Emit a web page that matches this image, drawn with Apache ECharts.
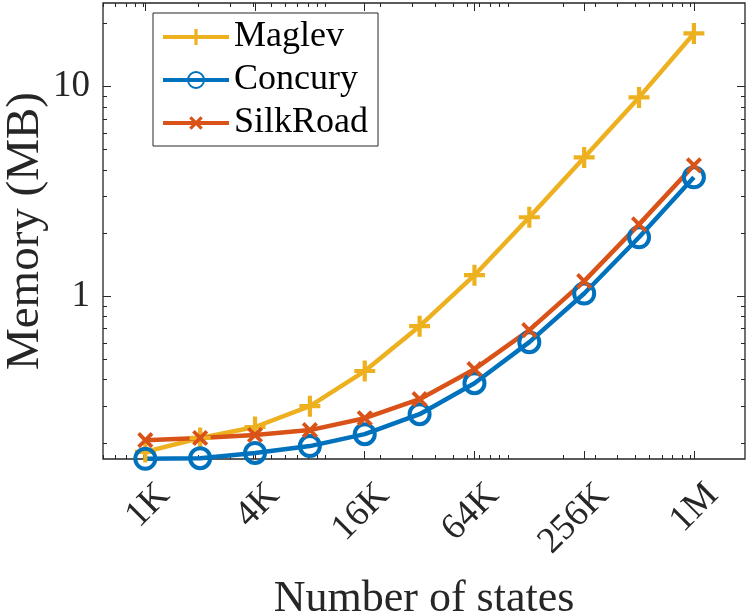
<!DOCTYPE html>
<html lang="en">
<head>
    <meta charset="UTF-8">
    <title>Memory vs states</title>
    <style>
        html,body{margin:0;padding:0;background:#fff;}
        #main{width:747px;height:612px;}
    </style>
</head>
<body>
<div id="main"></div>
<script src="https://cdn.jsdelivr.net/npm/echarts@6/dist/echarts.min.js"></script>
<script>
// number of states (x), 1K .. 1M
const states=[1024,2048,4096,8192,16384,32768,65536,131072,262144,524288,1048576];

// memory in MB
const maglev=[0.181,0.211,0.238,0.299,0.44,0.72,1.26,2.38,4.59,8.87,17.9];
const concury=[0.168,0.169,0.179,0.193,0.220,0.274,0.385,0.604,1.03,1.91,3.69];
const silkroad=[0.206,0.211,0.218,0.230,0.262,0.323,0.449,0.689,1.18,2.20,4.21];

// tick labels
const xTickValues=[1024,4096,16384,65536,262144,1048576];
const xTickLabels=['1K','4K','16K','64K','256K','1M'];
const xMinorValues=[600,700,800,900,1e3,2e3,3e3,4e3,5e3,6e3,7e3,8e3,9e3,
    1e4,2e4,3e4,4e4,5e4,6e4,7e4,8e4,9e4,1e5,2e5,3e5,4e5,5e5,6e5,7e5,8e5,9e5,1e6];
const yTickValues=[1,10];
const yTickLabels=['1','10'];
const yMinorValues=[0.2,0.3,0.4,0.5,0.6,0.7,0.8,0.9,2,3,4,5,6,7,8,9,20];

const FONT='Liberation Serif';
const AX='#262626';
const X_MIN=600, X_MAX=2e6, Y_MIN=0.1675, Y_MAX=25;

function pair(ys){ return states.map((s,i)=>[s,ys[i]]); }
function nearest(vals,labels,v){
    let best=0,d=Infinity;
    vals.forEach((t,i)=>{ const e=Math.abs(Math.log(v/t)); if(e<d){d=e;best=i;} });
    return labels[best];
}

// x axes: bottom major (labels), bottom minor, top major, top minor
function xAx(pos,major,extra){
    return Object.assign({
        type:'log',logBase:2,min:X_MIN,max:X_MAX,position:pos,
        axisLine:{show:false},splitLine:{show:false},
        axisLabel:{show:false},
        axisTick:{show:true,inside:true,length:major?8:4,
            lineStyle:{color:AX,width:1},
            customValues:major?xTickValues:xMinorValues}
    },extra||{});
}
function yAx(pos,major,extra){
    return Object.assign({
        type:'log',min:Y_MIN,max:Y_MAX,position:pos,
        axisLine:{show:false},splitLine:{show:false},
        axisLabel:{show:false},
        axisTick:{show:true,inside:true,length:major?8:4,
            lineStyle:{color:AX,width:1},
            customValues:major?yTickValues:yMinorValues}
    },extra||{});
}

const plus='path://M4,0h2v4h4v2h-4v4h-2v-4h-4v-2h4z';

const myChart=echarts.init(document.getElementById('main'));
const option={
    animation:false,
    backgroundColor:'#fff',
    grid:{left:103,right:2,top:3,bottom:153,show:true,borderColor:AX,borderWidth:1.3,
        outerBoundsMode:'none'},
    legend:{
        left:153,top:13,orient:'vertical',
        backgroundColor:'#fff',borderColor:AX,borderWidth:1,
        padding:[6,10,5,8],
        itemWidth:66,itemHeight:20,itemGap:7,
        lineStyle:{width:4},
        textStyle:{fontFamily:FONT,fontSize:36,color:'#000'},
        data:['Maglev','Concury','SilkRoad']
    },
    xAxis:[
        xAx('bottom',true,{
            name:'Number of states',nameLocation:'middle',nameGap:118,
            nameMoveOverlap:false,
            nameTextStyle:{fontFamily:FONT,fontSize:44,color:'#262626'},
            axisLabel:{show:true,rotate:45,margin:12,verticalAlign:'top',
                padding:[8,0,0,0],
                customValues:xTickValues,
                fontFamily:FONT,fontSize:37,color:'#262626',
                formatter:v=>nearest(xTickValues,xTickLabels,v)}
        }),
        xAx('bottom',false),
        xAx('top',true),
        xAx('top',false)
    ],
    yAxis:[
        yAx('left',true,{
            name:'Memory (MB)',nameLocation:'middle',nameGap:54,
            nameMoveOverlap:false,
            nameTextStyle:{fontFamily:FONT,fontSize:47,color:'#262626'},
            axisLabel:{show:true,margin:13,customValues:yTickValues,
                fontFamily:FONT,fontSize:37,color:'#262626',
                formatter:v=>nearest(yTickValues,yTickLabels,v)}
        }),
        yAx('left',false),
        yAx('right',true),
        yAx('right',false)
    ],
    series:[
        {
            name:'Maglev',type:'line',data:pair(maglev),
            color:'#EDB120',lineStyle:{width:4.5,color:'#EDB120'},
            symbol:plus,symbolSize:21,itemStyle:{color:'#EDB120'}
        },
        {
            name:'Concury',type:'line',data:pair(concury),
            color:'#0072BD',lineStyle:{width:4.5,color:'#0072BD'},
            symbol:'circle',symbolSize:20,
            itemStyle:{color:'rgba(255,255,255,0)',borderColor:'#0072BD',borderWidth:4}
        },
        {
            name:'SilkRoad',type:'line',data:pair(silkroad),
            color:'#D95319',lineStyle:{width:4.5,color:'#D95319'},
            symbol:plus,symbolRotate:45,symbolSize:19,itemStyle:{color:'#D95319'}
        }
    ]
};
myChart.setOption(option);
</script>
</body>
</html>
